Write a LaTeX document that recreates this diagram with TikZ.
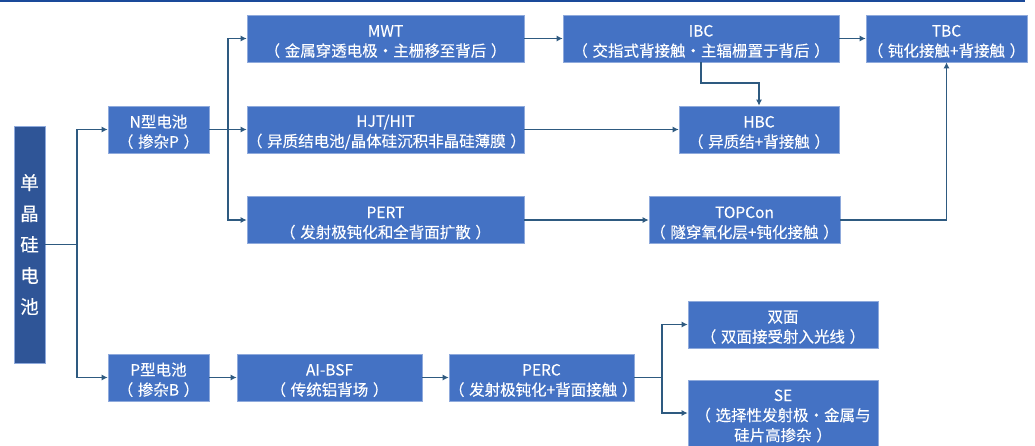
\documentclass[tikz,border=0pt]{standalone}
\usepackage{fontspec}
\newfontfamily\cjk[FakeBold=0.15]{Noto Sans CJK SC}
\usetikzlibrary{arrows.meta}
\definecolor{boxblue}{HTML}{4472C4}
\definecolor{monoblue}{HTML}{2F5597}
\definecolor{edgeblue}{HTML}{8FAADC}
\definecolor{linecol}{HTML}{2E5A80}
\definecolor{topline}{HTML}{1A4A9A}
\newcommand{\lp}{（\kern0.3em}
\newcommand{\rp}{\kern0.3em）}
\tikzset{
  cell/.style={rectangle, fill=boxblue, draw=edgeblue, line width=0.6pt, inner sep=0pt,
    text=white, align=center, font=\cjk\fontsize{15.5}{20}\selectfont, minimum height=47pt,
    text width=#1, minimum width=#1,
    execute at begin node={\rule{0pt}{17.5pt}}},
  mono/.style={rectangle, fill=monoblue, draw=edgeblue, line width=0.6pt, inner sep=0pt,
    text=white, align=center, font=\cjk\fontsize{18.5}{31}\selectfont,
    minimum width=31pt, minimum height=237pt},
  conn/.style={draw=linecol, line width=1.2pt},
  arr/.style={conn, -{Latex[length=6pt,width=6pt]}}
}
\begin{document}
\begin{tikzpicture}[x=1pt,y=-1pt]
\clip (0,0) rectangle (1035,445);
\fill[white] (0,0) rectangle (1035,445);
\draw[topline, line width=2.4pt] (0,1.2) -- (1025,1.2);

\node[mono] (mono) at (29.5,244.5) {单\\晶\\硅\\电\\池};
\node[cell=101pt] (n) at (158.5,129.5) {N型电池\\\mbox{\lp 掺杂P\rp}};
\node[cell=101pt] (p) at (158.5,377.5) {P型电池\\\mbox{\lp 掺杂B\rp}};
\node[cell=277pt] (mwt) at (385.5,38.5) {MWT\\\mbox{\lp 金属穿透电极·主栅移至背后\rp}};
\node[cell=277pt] (hjt) at (385.5,129.5) {HJT/HIT\\\mbox{\lp 异质结电池/晶体硅沉积非晶硅薄膜\rp}};
\node[cell=277pt] (pert) at (385.5,220) {PERT\\\mbox{\lp 发射极钝化和全背面扩散\rp}};
\node[cell=276pt] (ibc) at (701,38.5) {IBC\\\mbox{\lp 交指式背接触·主辐栅置于背后\rp}};
\node[cell=160pt] (hbc) at (759,129.5) {HBC\\\mbox{\lp 异质结+背接触\rp}};
\node[cell=191pt] (topcon) at (744.5,220) {TOPCon\\\mbox{\lp 隧穿氧化层+钝化接触\rp}};
\node[cell=161pt] (tbc) at (946.5,38.5) {TBC\\\mbox{\lp 钝化接触+背接触\rp}};
\node[cell=185pt] (albsf) at (329.5,377.5) {AI-BSF\\\mbox{\lp 传统铝背场\rp}};
\node[cell=185pt] (perc) at (541.5,377.5) {PERC\\\mbox{\lp 发射极钝化+背面接触\rp}};
\node[cell=190pt] (bif) at (783,324.5) {双面\\\mbox{\lp 双面接受射入光线\rp}};
\node[cell=190pt, minimum height=66pt] (se) at (783,413) {SE\\\mbox{\lp 选择性发射极·金属与}\\\mbox{硅片高掺杂\rp}};

% trunk from mono
\coordinate (j0) at (77,244.5);
\draw[conn] (mono.east |- j0) -- (j0);
\draw[arr] (j0) |- (n.west);
\draw[arr] (j0) |- (p.west);

% N branches
\coordinate (j1) at (228,129.5);
\draw[arr] (n.east) -- (hjt.west);
\draw[arr] (j1) |- (mwt.west);
\draw[arr] (j1) |- (pert.west);

\draw[arr] (mwt.east) -- (ibc.west);
\draw[arr] (ibc.east) -- (tbc.west);
\coordinate (k1) at (701,83);
\draw[arr] (ibc.south) -- (k1) -| (hbc.north);
\draw[arr] (hjt.east) -- (hbc.west);
\draw[arr] (pert.east) -- (topcon.west);
\draw[arr] (topcon.east) -| (tbc.south);

% P branches
\draw[arr] (p.east) -- (albsf.west);
\draw[arr] (albsf.east) -- (perc.west);
\coordinate (j2) at (662,377.5);
\draw[conn] (perc.east) -- (j2);
\draw[arr] (j2) |- (bif.west);
\draw[arr] (j2) |- (se.west);
\end{tikzpicture}
\end{document}
